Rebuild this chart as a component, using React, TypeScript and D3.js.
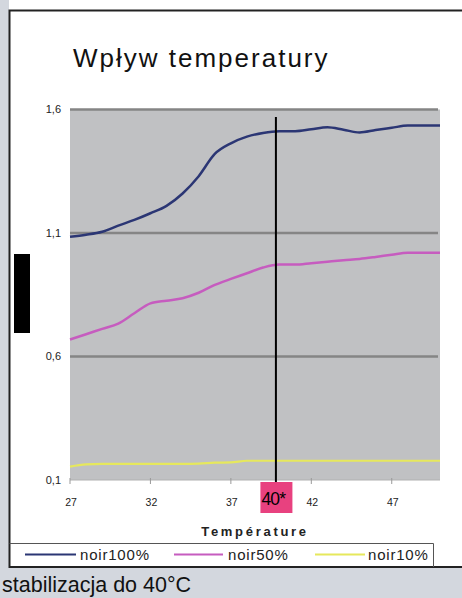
import * as d3 from "d3";
import React from "react";

const temperatures = [
  27, 28, 29, 30, 31, 32, 33, 34, 35, 36, 37, 38, 39, 40, 41, 42, 43, 44, 45,
  46, 47, 48, 49, 50,
];
const noir100 = [
  1.085, 1.093, 1.105, 1.13, 1.153, 1.18, 1.21, 1.26, 1.33, 1.42, 1.463, 1.49,
  1.505, 1.512, 1.512, 1.52, 1.528, 1.518, 1.507, 1.517, 1.526, 1.535, 1.535,
  1.535,
];
const noir50 = [
  0.669, 0.69, 0.712, 0.733, 0.775, 0.815, 0.826, 0.836, 0.858, 0.89, 0.914,
  0.937, 0.96, 0.972, 0.972, 0.978, 0.984, 0.99, 0.995, 1.003, 1.012, 1.02,
  1.02, 1.02,
];
const noir10 = [
  0.154, 0.163, 0.165, 0.165, 0.165, 0.165, 0.165, 0.165, 0.166, 0.17, 0.171,
  0.178, 0.178, 0.178, 0.178, 0.178, 0.178, 0.178, 0.178, 0.178, 0.178, 0.178,
  0.178, 0.178,
];
const seriesNames = ["noir100%", "noir50%", "noir10%"];
const seriesColors = ["#2b3674", "#c65cbf", "#e6e85c"];
const xTicks = [27, 32, 37, 42, 47];
const yTicks = [0.1, 0.6, 1.1, 1.6];
const markerTemp = 39.8;
const markerLabel = "40*";

const title = "Wpływ temperatury";
const xTitle = "Température";
const caption = "stabilizacja do 40°C";

export default function App() {
  const W = 462;
  const H = 598;
  const plot = { left: 70, right: 440, top: 109.5, bottom: 480 };

  const x = d3
    .scaleLinear()
    .domain([temperatures[0], temperatures[temperatures.length - 1]])
    .range([plot.left, plot.right]);
  const y = d3.scaleLinear().domain([0.1, 1.6]).range([plot.bottom, plot.top]);

  const series = [noir100, noir50, noir10];
  const line = d3
    .line<number>()
    .x((_, i) => x(temperatures[i]))
    .y((d) => y(d))
    .curve(d3.curveMonotoneX);

  const font = "'Liberation Sans', Arial, sans-serif";
  const mx = x(markerTemp);

  // legend layout
  const legendTop = 543.5;
  const legendRow = 554.5;
  const legendItems = [
    { x1: 25, x2: 76, tx: 80 },
    { x1: 174, x2: 223, tx: 228 },
    { x1: 315, x2: 365, tx: 368 },
  ];

  return (
    <div style={{ position: "fixed", left: 0, top: 0 }}>
      <svg width={W} height={H} style={{ display: "block", fontFamily: font }}>
        <rect x={0} y={0} width={W} height={H} fill="#d3d7de" />
        <rect x={9} y={0} width={W - 9} height={567} fill="#ffffff" />
        {/* frame */}
        <path
          d={`M${W},10.5 H9.5 V567 H${W}`}
          fill="none"
          stroke="#222"
          strokeWidth={2}
        />

        <text x={73} y={67} fontSize={26} letterSpacing={2} fill="#111">
          {title}
        </text>

        {/* black block */}
        <rect x={14} y={254} width={16} height={79} fill="#000" />

        {/* plot area */}
        <rect
          x={plot.left}
          y={plot.top}
          width={plot.right - plot.left}
          height={plot.bottom - plot.top}
          fill="#c0c1c3"
        />
        {yTicks.map((t) => (
          <g key={`y-${t}`}>
            {t > 0.1 && (
              <line
                x1={plot.left}
                x2={plot.right - 2}
                y1={y(t)}
                y2={y(t)}
                stroke="#858585"
                strokeWidth={2.5}
              />
            )}
            <text
              x={61}
              y={y(t)}
              dy="0.35em"
              textAnchor="end"
              fontSize={11}
              fill="#222"
            >
              {String(t).replace(".", ",")}
            </text>
          </g>
        ))}
        <line
          x1={plot.left}
          x2={plot.right}
          y1={plot.bottom}
          y2={plot.bottom}
          stroke="#b0b0b0"
          strokeWidth={1}
        />
        {xTicks.map((t) => (
          <g key={`x-${t}`}>
            <line
              x1={x(t)}
              x2={x(t)}
              y1={plot.bottom - 2}
              y2={plot.bottom + 4}
              stroke="#999"
              strokeWidth={1}
            />
            <text
              x={x(t) + 1}
              y={506}
              textAnchor="middle"
              fontSize={10.5}
              fill="#222"
            >
              {t}
            </text>
          </g>
        ))}

        {series.map((s, i) => (
          <path
            key={seriesNames[i]}
            d={line(s) || ""}
            fill="none"
            stroke={seriesColors[i]}
            strokeWidth={i === 2 ? 2.2 : 2.5}
            strokeLinejoin="round"
          />
        ))}

        {/* 40° marker */}
        <line
          x1={mx}
          x2={mx}
          y1={117}
          y2={482}
          stroke="#000"
          strokeWidth={2}
        />
        <rect x={mx - 15.5} y={482} width={32} height={31} fill="#e8417f" />
        <text
          x={mx - 14.5}
          y={505}
          fontSize={17.5}
          letterSpacing={-0.8}
          fill="#000"
        >
          {markerLabel}
        </text>

        <text
          x={255}
          y={535.5}
          textAnchor="middle"
          fontSize={13}
          fontWeight="bold"
          letterSpacing={2.7}
          fill="#222"
        >
          {xTitle}
        </text>

        {/* legend */}
        <path
          d={`M9.5,${legendTop} H433.5 V567`}
          fill="none"
          stroke="#555"
          strokeWidth={1}
        />
        {seriesNames.map((name, i) => (
          <g key={`lg-${name}`}>
            <line
              x1={legendItems[i].x1}
              x2={legendItems[i].x2}
              y1={legendRow}
              y2={legendRow}
              stroke={seriesColors[i]}
              strokeWidth={2}
            />
            <text
              x={legendItems[i].tx}
              y={559.5}
              fontSize={15}
              letterSpacing={0.8}
              fill="#222"
            >
              {name}
            </text>
          </g>
        ))}

        <text x={2} y={592} fontSize={21.5} fill="#111">
          {caption}
        </text>
      </svg>
    </div>
  );
}
